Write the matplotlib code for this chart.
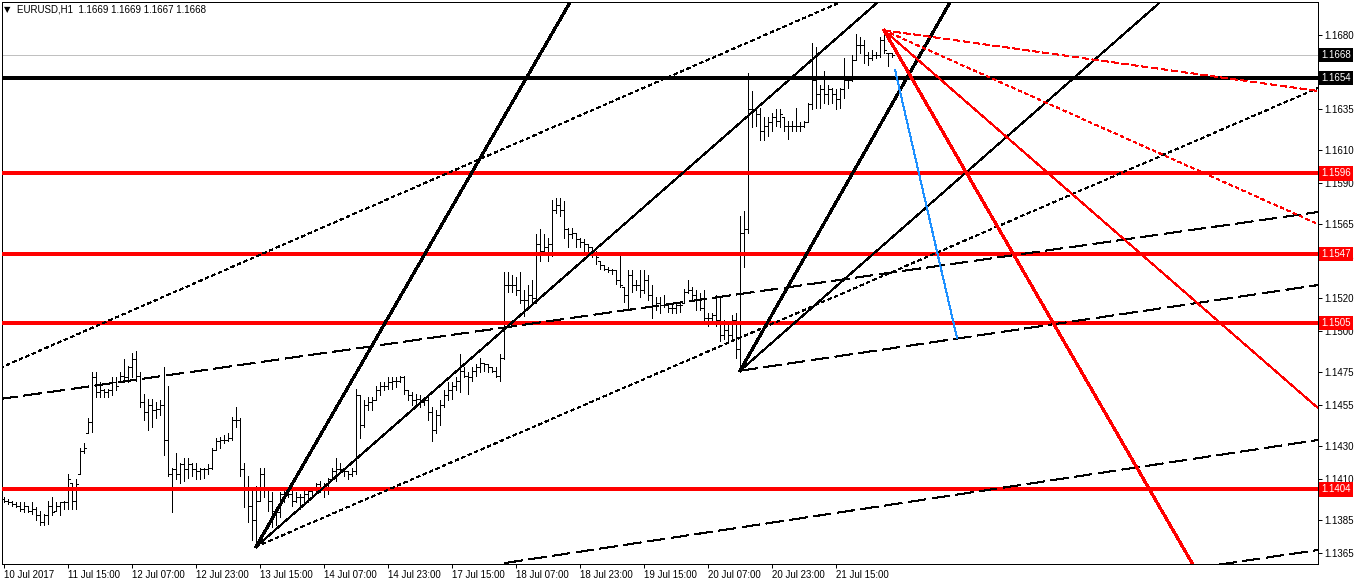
import numpy as np
import matplotlib.pyplot as plt
from matplotlib.collections import LineCollection
from matplotlib.transforms import blended_transform_factory

plt.rcParams['font.family'] = ['Liberation Sans', 'DejaVu Sans']

# EURUSD H1 bars (one per hour, 10 Jul 23:00 .. 21 Jul)
high = [1.1399, 1.1398, 1.1397, 1.1396, 1.1396, 1.1396, 1.1394, 1.1396, 1.1393, 1.1391,
        1.1389, 1.1397, 1.1399, 1.1396, 1.1396, 1.1397, 1.1413, 1.1408, 1.1410, 1.1429,
        1.1432, 1.1447, 1.1475, 1.1475, 1.1469, 1.1465, 1.1465, 1.1472, 1.1472, 1.1475,
        1.1483, 1.1479, 1.1487, 1.1488, 1.1475, 1.1462, 1.1459, 1.1459, 1.1457, 1.1458,
        1.1478, 1.1467, 1.1417, 1.1426, 1.1420, 1.1423, 1.1423, 1.1420, 1.1420, 1.1417,
        1.1417, 1.1419, 1.1429, 1.1435, 1.1436, 1.1437, 1.1438, 1.1448, 1.1454, 1.1447,
        1.1420, 1.1412, 1.1405, 1.1406, 1.1417, 1.1417, 1.1405, 1.1402, 1.1393, 1.1402,
        1.1405, 1.1405, 1.1404, 1.1402, 1.1401, 1.1403, 1.1404, 1.1405, 1.1408, 1.1409,
        1.1408, 1.1411, 1.1417, 1.1423, 1.1420, 1.1417, 1.1415, 1.1417, 1.1465, 1.1461,
        1.1458, 1.1460, 1.1460, 1.1467, 1.1469, 1.1469, 1.1472, 1.1472, 1.1472, 1.1473,
        1.1473, 1.1464, 1.1463, 1.1462, 1.1461, 1.1460, 1.1461, 1.1454, 1.1452, 1.1458,
        1.1464, 1.1469, 1.1469, 1.1472, 1.1486, 1.1478, 1.1475, 1.1478, 1.1480, 1.1484,
        1.1481, 1.1480, 1.1478, 1.1478, 1.1486, 1.1536, 1.1536, 1.1534, 1.1533, 1.1536,
        1.1525, 1.1528, 1.1531, 1.1559, 1.1562, 1.1559, 1.1557, 1.1580, 1.1581, 1.1581,
        1.1579, 1.1563, 1.1563, 1.1560, 1.1557, 1.1556, 1.1553, 1.1551, 1.1549, 1.1543,
        1.1540, 1.1539, 1.1538, 1.1537, 1.1546, 1.1527, 1.1537, 1.1537, 1.1531, 1.1537,
        1.1537, 1.1534, 1.1528, 1.1521, 1.1521, 1.1522, 1.1517, 1.1517, 1.1517, 1.1518,
        1.1526, 1.1531, 1.1527, 1.1525, 1.1523, 1.1525, 1.1511, 1.1511, 1.1522, 1.1521,
        1.1507, 1.1506, 1.1510, 1.1511, 1.1570, 1.1573, 1.1657, 1.1646, 1.1636, 1.1636,
        1.1630, 1.1630, 1.1633, 1.1635, 1.1635, 1.1630, 1.1628, 1.1628, 1.1636, 1.1627,
        1.1628, 1.1639, 1.1675, 1.1673, 1.1650, 1.1658, 1.1650, 1.1648, 1.1647, 1.1648,
        1.1666, 1.1655, 1.1668, 1.1681, 1.1679, 1.1677, 1.1670, 1.1671, 1.1670, 1.1679,
        1.1683, 1.1669, 1.1669]
low = [1.1396, 1.1395, 1.1394, 1.1393, 1.1391, 1.1390, 1.1390, 1.1389, 1.1385, 1.1382,
       1.1382, 1.1383, 1.1388, 1.1391, 1.1388, 1.1392, 1.1392, 1.1392, 1.1392, 1.1413,
       1.1426, 1.1438, 1.1439, 1.1460, 1.1460, 1.1460, 1.1460, 1.1461, 1.1464, 1.1469,
       1.1469, 1.1469, 1.1472, 1.1470, 1.1454, 1.1446, 1.1440, 1.1442, 1.1447, 1.1449,
       1.1425, 1.1412, 1.1390, 1.1410, 1.1408, 1.1409, 1.1411, 1.1412, 1.1410, 1.1410,
       1.1411, 1.1413, 1.1416, 1.1428, 1.1429, 1.1432, 1.1433, 1.1434, 1.1442, 1.1412,
       1.1393, 1.1384, 1.1373, 1.1369, 1.1397, 1.1399, 1.1391, 1.1381, 1.1382, 1.1387,
       1.1396, 1.1399, 1.1394, 1.1396, 1.1392, 1.1396, 1.1396, 1.1399, 1.1403, 1.1402,
       1.1399, 1.1401, 1.1410, 1.1409, 1.1414, 1.1412, 1.1410, 1.1412, 1.1413, 1.1435,
       1.1442, 1.1452, 1.1452, 1.1458, 1.1461, 1.1464, 1.1465, 1.1465, 1.1466, 1.1469,
       1.1462, 1.1458, 1.1455, 1.1456, 1.1454, 1.1455, 1.1446, 1.1433, 1.1438, 1.1443,
       1.1454, 1.1458, 1.1459, 1.1464, 1.1463, 1.1472, 1.1462, 1.1470, 1.1473, 1.1475,
       1.1476, 1.1475, 1.1475, 1.1472, 1.1470, 1.1483, 1.1524, 1.1524, 1.1522, 1.1517,
       1.1509, 1.1515, 1.1518, 1.1517, 1.1543, 1.1548, 1.1543, 1.1546, 1.1572, 1.1570,
       1.1557, 1.1551, 1.1557, 1.1551, 1.1551, 1.1549, 1.1548, 1.1545, 1.1541, 1.1538,
       1.1537, 1.1536, 1.1535, 1.1529, 1.1527, 1.1518, 1.1513, 1.1524, 1.1525, 1.1521,
       1.1523, 1.1519, 1.1508, 1.1513, 1.1511, 1.1515, 1.1512, 1.1511, 1.1511, 1.1512,
       1.1517, 1.1523, 1.1519, 1.1513, 1.1513, 1.1505, 1.1503, 1.1507, 1.1503, 1.1494,
       1.1495, 1.1493, 1.1494, 1.1484, 1.1476, 1.1539, 1.1560, 1.1624, 1.1625, 1.1616,
       1.1616, 1.1619, 1.1622, 1.1625, 1.1624, 1.1622, 1.1617, 1.1622, 1.1622, 1.1622,
       1.1624, 1.1627, 1.1635, 1.1636, 1.1636, 1.1639, 1.1638, 1.1639, 1.1635, 1.1636,
       1.1642, 1.1648, 1.1652, 1.1665, 1.1669, 1.1663, 1.1662, 1.1665, 1.1666, 1.1667,
       1.1669, 1.1661, 1.1667]
close = [1.1397, 1.1396, 1.1395, 1.1394, 1.1392, 1.1394, 1.1391, 1.1392, 1.1388, 1.1384,
         1.1388, 1.1394, 1.1390, 1.1394, 1.1396, 1.1396, 1.1410, 1.1397, 1.1407, 1.1427,
         1.1429, 1.1445, 1.1472, 1.1463, 1.1464, 1.1463, 1.1464, 1.1469, 1.1467, 1.1473,
         1.1472, 1.1478, 1.1483, 1.1473, 1.1457, 1.1451, 1.1455, 1.1452, 1.1453, 1.1455,
         1.1434, 1.1413, 1.1416, 1.1413, 1.1419, 1.1416, 1.1419, 1.1416, 1.1415, 1.1416,
         1.1416, 1.1417, 1.1428, 1.1433, 1.1434, 1.1434, 1.1435, 1.1446, 1.1446, 1.1416,
         1.1404, 1.1394, 1.1385, 1.1397, 1.1413, 1.1404, 1.1397, 1.1391, 1.1390, 1.1401,
         1.1404, 1.1401, 1.1397, 1.1399, 1.1399, 1.1401, 1.1403, 1.1404, 1.1407, 1.1404,
         1.1407, 1.1410, 1.1415, 1.1416, 1.1416, 1.1415, 1.1413, 1.1415, 1.1461, 1.1443,
         1.1455, 1.1457, 1.1458, 1.1464, 1.1467, 1.1467, 1.1469, 1.1470, 1.1470, 1.1472,
         1.1464, 1.1461, 1.1458, 1.1459, 1.1457, 1.1458, 1.1451, 1.1440, 1.1449, 1.1455,
         1.1461, 1.1464, 1.1467, 1.1470, 1.1476, 1.1473, 1.1472, 1.1476, 1.1478, 1.1481,
         1.1480, 1.1478, 1.1476, 1.1473, 1.1484, 1.1528, 1.1528, 1.1528, 1.1525, 1.1519,
         1.1519, 1.1522, 1.1520, 1.1553, 1.1549, 1.1551, 1.1553, 1.1574, 1.1577, 1.1574,
         1.1562, 1.1559, 1.1560, 1.1556, 1.1554, 1.1553, 1.1551, 1.1548, 1.1545, 1.1540,
         1.1538, 1.1537, 1.1537, 1.1531, 1.1528, 1.1522, 1.1534, 1.1528, 1.1528, 1.1525,
         1.1531, 1.1522, 1.1516, 1.1517, 1.1516, 1.1516, 1.1514, 1.1514, 1.1516, 1.1516,
         1.1524, 1.1525, 1.1522, 1.1519, 1.1514, 1.1508, 1.1508, 1.1510, 1.1507, 1.1498,
         1.1501, 1.1498, 1.1507, 1.1489, 1.1560, 1.1562, 1.1635, 1.1635, 1.1632, 1.1622,
         1.1625, 1.1627, 1.1630, 1.1628, 1.1632, 1.1625, 1.1625, 1.1625, 1.1625, 1.1625,
         1.1627, 1.1638, 1.1653, 1.1644, 1.1647, 1.1644, 1.1647, 1.1644, 1.1641, 1.1647,
         1.1653, 1.1653, 1.1665, 1.1674, 1.1674, 1.1668, 1.1666, 1.1668, 1.1668, 1.1677,
         1.1671, 1.1669, 1.1668]
first_open = 1.1398

time_labels = ['10 Jul 2017', '11 Jul 15:00', '12 Jul 07:00', '12 Jul 23:00', '13 Jul 15:00',
               '14 Jul 07:00', '14 Jul 23:00', '17 Jul 15:00', '18 Jul 07:00', '18 Jul 23:00',
               '19 Jul 15:00', '20 Jul 07:00', '20 Jul 23:00', '21 Jul 15:00']
price_ticks = [1.1680, 1.1635, 1.1610, 1.1590, 1.1565, 1.1545, 1.1520, 1.1500,
               1.1475, 1.1455, 1.1430, 1.1410, 1.1385, 1.1365]

red_levels = [1.1596, 1.1547, 1.1505, 1.1404]
black_level = 1.1654
bid = 1.1668
title = 'EURUSD,H1  1.1669 1.1669 1.1667 1.1668'

# anchors (bar index, price)
low1 = (63, 1.1369)
low2 = (184, 1.1476)
peak = (220, 1.1683)

THIN = 0.72
THICK = 1.5
# (start, through, colour, width, style)
objects = [
    (low1, (141.5, 1.1700), 'black', THICK, '-'),
    (low1, (218.4, 1.1700), 'black', THIN, '-'),
    (low1, (328.5, 1.16479), 'black', THIN, (0, (3, 3))),
    ((-1, 1.14777), (209, 1.1700), 'black', THIN, (0, (3, 3))),
    ((-1, 1.14588), (328.5, 1.15725), 'black', THIN, (0, (18, 6))),
    (low2, (328.5, 1.15281), 'black', THIN, (0, (18, 6))),
    ((125.25, 1.13591), (328.5, 1.14339), 'black', THIN, (0, (18, 6))),
    ((274, 1.13475), (328.5, 1.13670), 'black', THIN, (0, (18, 6))),
    (low2, (236.5, 1.1700), 'black', THICK, '-'),
    (low2, (289, 1.1700), 'black', THIN, '-'),
    (peak, (297, 1.13591), 'red', THICK, '-'),
    (peak, (328.5, 1.14533), 'red', THIN, '-'),
    (peak, (328.5, 1.15652), 'red', THIN, (0, (3, 3))),
    (peak, (328.5, 1.16461), 'red', THIN, (0, (6, 3))),
]
blue_seg = ((222.75, 1.1659), (238.25, 1.14959))

fig = plt.figure(figsize=(13.58, 5.84), dpi=100, facecolor='white')
ax = fig.add_axes([2 / 1358, 20 / 584, 1316 / 1358, 562 / 584])
ax.set_xlim(-0.5, 328.5)
ax.set_ylim(1.13585, 1.17002)

n = len(high)
opens = np.clip(np.r_[first_open, close[:-1]], low, high)

segs = [[(i, low[i]), (i, high[i])] for i in range(n)]
segs += [[(i - 0.4, opens[i]), (i, opens[i])] for i in range(n)]
segs += [[(i, close[i]), (i + 0.4, close[i])] for i in range(n)]
ax.add_collection(LineCollection(segs, colors='black', linewidths=THIN,
                                 antialiaseds=False, zorder=2))

# horizontal levels
ax.axhline(bid, color='#c0c0c0', lw=THIN, antialiased=False, zorder=1)
ax.axhline(black_level, color='black', lw=THICK, antialiased=False, zorder=3)
for lv in red_levels:
    ax.axhline(lv, color='red', lw=THICK, antialiased=False, zorder=3)

for p0, p1, col, lw, ls in objects:
    x2 = p0[0] + 4 * (p1[0] - p0[0])
    y2 = p0[1] + 4 * (p1[1] - p0[1])
    ax.plot([p0[0], x2], [p0[1], y2], color=col, lw=lw, ls=ls,
            antialiased=False, zorder=3)
ax.plot([blue_seg[0][0], blue_seg[1][0]], [blue_seg[0][1], blue_seg[1][1]],
        color='#1e90ff', lw=THIN, antialiased=False, zorder=3)

# axes styling
for s in ax.spines.values():
    s.set_color('black')
    s.set_linewidth(THIN)
ax.yaxis.tick_right()
ax.set_yticks(price_ticks)
ax.set_yticklabels(['%.4f' % v for v in price_ticks])
ax.set_xticks(np.arange(0, 16 * len(time_labels), 16))
ax.set_xticklabels(time_labels)
for lab in ax.get_xticklabels():
    lab.set_horizontalalignment('left')
ax.tick_params(axis='both', direction='out', length=3, width=THIN,
               labelsize=7, pad=1.5, color='black')

# price boxes on the right scale
trans = blended_transform_factory(ax.transAxes, ax.transData)
boxes = [(bid, 'black'), (black_level, 'black')] + [(lv, 'red') for lv in red_levels]
for lv, bg in boxes:
    ax.text(1.0025, lv, '%.4f' % lv, transform=trans, ha='left', va='center',
            fontsize=7, color='white', zorder=6, clip_on=False,
            bbox=dict(boxstyle='square,pad=0.25', fc=bg, ec='none'))

fig.text(4 / 1358, 1 - 10 / 584, '\u25bc', fontsize=6, va='center',
         family='DejaVu Sans')
fig.text(17 / 1358, 1 - 10 / 584, title, fontsize=7, va='center')

fig.savefig('out.png', dpi=100)
